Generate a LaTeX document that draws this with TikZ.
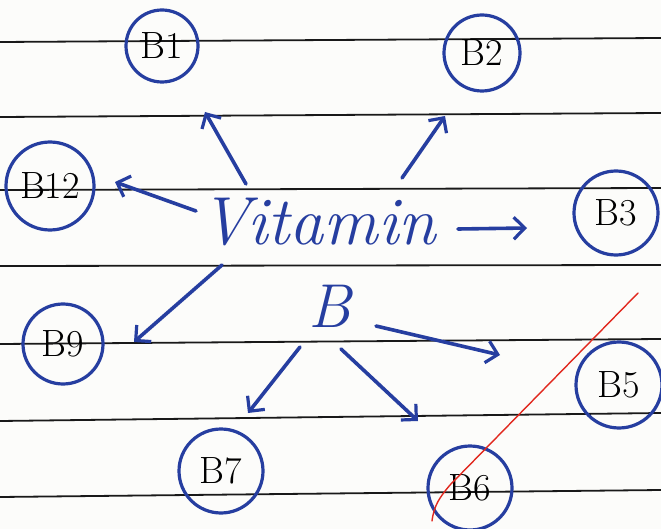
\documentclass[tikz,border=0pt]{standalone}
\usetikzlibrary{arrows.meta}
\definecolor{ink}{RGB}{38,62,160}
\definecolor{rule}{RGB}{25,25,25}
\definecolor{paper}{RGB}{252,252,250}
\definecolor{redpen}{RGB}{225,40,30}
\tikzset{
  vit/.style={ink, line width=3.6pt, line cap=round, -{Straight Barb[length=11pt,width=22pt,line width=3.2pt]}},
  bcirc/.style={draw=ink, line width=3.2pt, circle, inner sep=0pt, minimum size=#1, font=\fontsize{38}{40}\selectfont, text=black},
  ruled/.style={rule, line width=1.8pt},
}
\begin{document}
\begin{tikzpicture}[x=1pt,y=-1pt]
\fill[paper] (0,0) rectangle (661,529);
\useasboundingbox (0,0) rectangle (661,529);
% ruled lines
\foreach \a/\b in {42/38,117/113,190/188,266/265,344/339,421/413,497/490}
  \draw[ruled] (0,\a) -- (661,\b);
% circles
\node[bcirc=72pt] (b1) at (162,46) {B1};
\node[bcirc=76pt] (b2) at (482,53) {B2};
\node[bcirc=88pt] (b12) at (50,186) {B12};
\node[bcirc=84pt] (b3) at (616,213) {B3};
\node[bcirc=80pt] (b9) at (63,344) {B9};
\node[bcirc=86pt] (b5) at (619,385) {B5};
\node[bcirc=84pt] (b7) at (221,471) {B7};
\node[bcirc=84pt] (b6) at (470,488) {B6};
% central text
\node[ink, font=\fontsize{68}{72}\selectfont\itshape] (vit) at (318,222) {Vitamin};
\node[ink, font=\fontsize{62}{66}\selectfont\itshape] (bb) at (330,306) {B};
% arrow end points
\coordinate (s1) at (246,184); \coordinate (e1) at (205,112);
\coordinate (s2) at (402,178); \coordinate (e2) at (445,116);
\coordinate (s12) at (196,211); \coordinate (e12) at (115,182);
\coordinate (s3) at (458,229); \coordinate (e3) at (527,228);
\coordinate (s9) at (222,265); \coordinate (e9) at (134,342);
\coordinate (s5) at (376,326); \coordinate (e5) at (500,355);
\coordinate (s7) at (300,347); \coordinate (e7) at (248,413);
\coordinate (s6) at (341,349); \coordinate (e6) at (418,421);
\draw[vit] (s1) -- (e1);
\draw[vit] (s2) -- (e2);
\draw[vit] (s12) -- (e12);
\draw[vit] (s3) -- (e3);
\draw[vit] (s9) -- (e9);
\draw[vit] (s5) -- (e5);
\draw[vit] (s7) -- (e7);
\draw[vit] (s6) -- (e6);
% red tick
\coordinate (r0) at (432,521); \coordinate (r1) at (638,293);
\draw[redpen, line width=1.4pt, line cap=round] (r0) .. controls (434,505) and (440,497) .. (450,485) -- (r1);
\end{tikzpicture}
\end{document}
